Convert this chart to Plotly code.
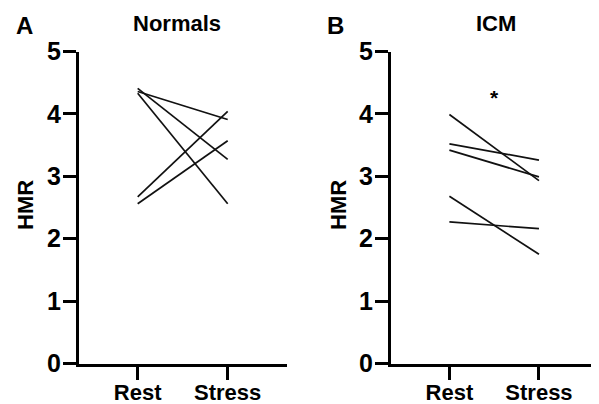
import plotly.graph_objects as go

categories = ["Rest", "Stress"]
normals_rest = [4.41, 4.36, 4.33, 2.67, 2.56]
normals_stress = [3.27, 3.91, 2.56, 4.04, 3.57]
icm_rest = [3.99, 3.52, 3.42, 2.68, 2.27]
icm_stress = [2.93, 3.26, 2.99, 1.75, 2.16]
y_ticks = [0, 1, 2, 3, 4, 5]
panel_titles = ["Normals", "ICM"]
panel_letters = ["A", "B"]
ylabel = "HMR"
sig_marker = "*"
sig_value = 4.27

FONT = "Liberation Sans, Arial, sans-serif"
W, H = 599, 404
OFF = 8  # page body margin offset


def px_x(x):
    return (x - OFF) / W


def px_y(y):
    return 1 - (y - OFF) / H


fig = go.Figure()

xpos = [0, 1]
for r, s in zip(normals_rest, normals_stress):
    fig.add_trace(go.Scatter(x=xpos, y=[r, s], mode="lines",
                             line=dict(color="#111111", width=1.7),
                             xaxis="x", yaxis="y", showlegend=False, hoverinfo="skip"))
for r, s in zip(icm_rest, icm_stress):
    fig.add_trace(go.Scatter(x=xpos, y=[r, s], mode="lines",
                             line=dict(color="#111111", width=1.7),
                             xaxis="x2", yaxis="y2", showlegend=False, hoverinfo="skip"))

ydom = [px_y(363.5), px_y(51.5)]
xdomA = [px_x(79), px_x(287)]
xdomB = [px_x(391), px_x(598)]

xtickfont = dict(family=FONT, size=22, color="black", weight="bold")
ytickfont = dict(family=FONT, size=25, color="black", weight="bold")


def xaxis(dom, anchor):
    return dict(domain=dom, anchor=anchor, range=[-0.652, 1.659],
                tickvals=xpos, ticktext=categories, showline=True, linecolor="black",
                linewidth=3, ticks="outside", ticklen=13, tickwidth=3, tickcolor="black",
                showgrid=False, zeroline=False, tickfont=xtickfont, fixedrange=True,
                automargin=False, ticklabelstandoff=-6)


def yaxis(anchor):
    return dict(domain=ydom, anchor=anchor, range=[0, 5], tickvals=y_ticks,
                showline=True, linecolor="black", linewidth=3, ticks="outside",
                ticklen=13, tickwidth=3, tickcolor="black", showgrid=False,
                zeroline=False, tickfont=ytickfont, fixedrange=True, automargin=False,
                ticklabelstandoff=-3)


annotations = []
for i in range(2):
    annotations.append(dict(text=panel_titles[i], x=px_x([176.7, 496][i]), y=px_y(23),
                            xref="paper", yref="paper",
                            showarrow=False, xanchor="center", yanchor="middle",
                            font=dict(family=FONT, size=22, color="black", weight="bold")))
    annotations.append(dict(text=panel_letters[i], x=px_x([24, 335][i]), y=px_y(25),
                            xref="paper", yref="paper",
                            showarrow=False, xanchor="center", yanchor="middle",
                            font=dict(family=FONT, size=24, color="black", weight="bold")))
    annotations.append(dict(text=ylabel, x=px_x([25, 338][i]), y=px_y(205),
                            xref="paper", yref="paper",
                            showarrow=False, xanchor="center", yanchor="middle", textangle=-90,
                            font=dict(family=FONT, size=22, color="black", weight="bold")))

annotations.append(dict(text=sig_marker, x=0.5, y=sig_value, xref="x2", yref="y2",
                        showarrow=False, xanchor="center", yanchor="middle",
                        font=dict(family=FONT, size=21, color="black", weight="bold")))

fig.update_layout(
    width=W, height=H, margin=dict(l=0, r=0, t=0, b=0, autoexpand=False),
    paper_bgcolor="white", plot_bgcolor="white",
    xaxis=xaxis(xdomA, "y"), yaxis=yaxis("x"),
    xaxis2=xaxis(xdomB, "y2"), yaxis2=yaxis("x2"),
    annotations=annotations, showlegend=False,
)

fig.write_html("out.html")
